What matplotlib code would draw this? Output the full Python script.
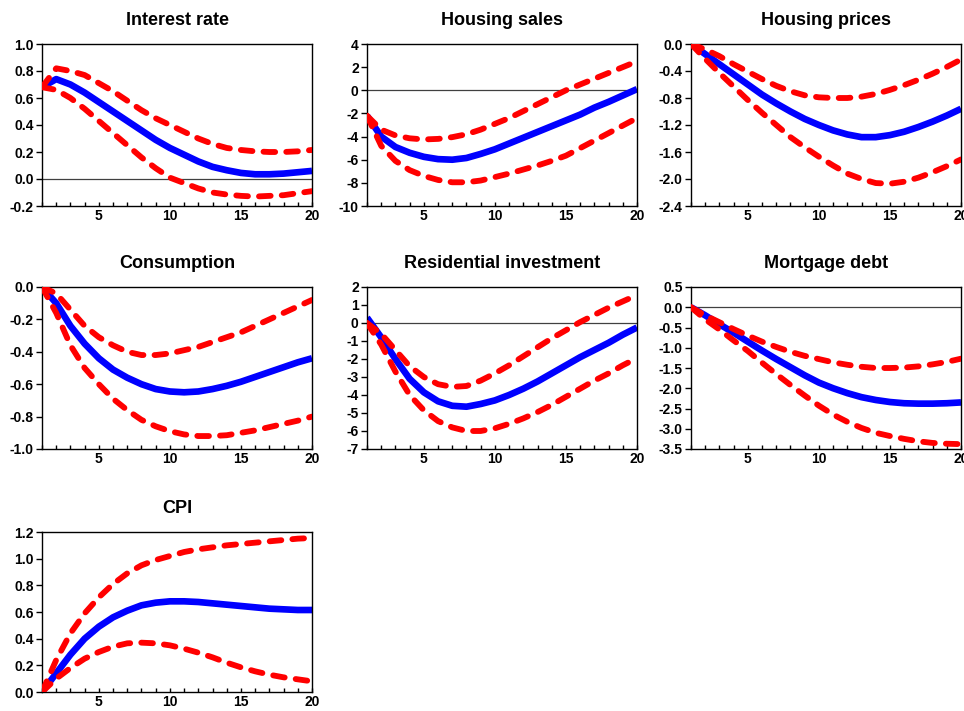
import matplotlib
matplotlib.use('Agg')
import matplotlib.pyplot as plt
from matplotlib.ticker import FixedLocator, MultipleLocator, FormatStrFormatter

plt.rcParams['font.family'] = ['Liberation Sans', 'DejaVu Sans']

horizon = list(range(1, 21))

# impulse responses: point estimate and lower / upper bands
rate_mid = [0.68, 0.74, 0.70, 0.64, 0.57, 0.50, 0.43, 0.36, 0.29, 0.23,
            0.18, 0.13, 0.09, 0.065, 0.045, 0.035, 0.035, 0.04, 0.05, 0.06]
rate_hi = [0.68, 0.82, 0.80, 0.77, 0.71, 0.65, 0.58, 0.51, 0.45, 0.40,
           0.35, 0.30, 0.26, 0.23, 0.215, 0.205, 0.20, 0.20, 0.205, 0.215]
rate_lo = [0.68, 0.66, 0.60, 0.52, 0.43, 0.34, 0.25, 0.16, 0.08, 0.01,
           -0.03, -0.07, -0.10, -0.115, -0.125, -0.13, -0.125, -0.12, -0.105, -0.09]

sales_mid = [-2.2, -4.0, -4.9, -5.4, -5.75, -5.95, -6.0, -5.85, -5.5, -5.1,
             -4.6, -4.1, -3.6, -3.1, -2.6, -2.1, -1.5, -1.0, -0.45, 0.1]
sales_hi = [-2.2, -3.4, -3.9, -4.15, -4.25, -4.2, -4.05, -3.8, -3.4, -2.9,
            -2.4, -1.8, -1.2, -0.6, 0.0, 0.5, 1.0, 1.5, 2.0, 2.5]
sales_lo = [-2.2, -4.8, -6.1, -6.9, -7.4, -7.75, -7.95, -7.95, -7.8, -7.5,
            -7.2, -6.85, -6.5, -6.1, -5.65, -5.0, -4.35, -3.7, -3.05, -2.4]

price_mid = [0.0, -0.15, -0.3, -0.45, -0.6, -0.75, -0.88, -1.0, -1.11, -1.2,
             -1.28, -1.34, -1.38, -1.38, -1.35, -1.3, -1.23, -1.15, -1.06, -0.96]
price_hi = [0.0, -0.08, -0.18, -0.3, -0.41, -0.52, -0.62, -0.7, -0.76, -0.79,
            -0.8, -0.8, -0.78, -0.74, -0.68, -0.61, -0.53, -0.44, -0.34, -0.23]
price_lo = [0.0, -0.22, -0.43, -0.63, -0.83, -1.02, -1.2, -1.38, -1.53, -1.67,
            -1.8, -1.92, -2.0, -2.06, -2.07, -2.04, -1.98, -1.9, -1.81, -1.71]

cons_mid = [0.0, -0.1, -0.24, -0.35, -0.44, -0.51, -0.56, -0.6, -0.63, -0.645,
            -0.65, -0.645, -0.63, -0.61, -0.585, -0.555, -0.525, -0.495, -0.465, -0.44]
cons_hi = [0.0, -0.04, -0.14, -0.24, -0.31, -0.36, -0.4, -0.42, -0.42, -0.41,
           -0.39, -0.37, -0.34, -0.31, -0.28, -0.24, -0.2, -0.16, -0.12, -0.08]
cons_lo = [0.0, -0.16, -0.36, -0.5, -0.6, -0.69, -0.76, -0.82, -0.86, -0.89,
           -0.91, -0.92, -0.92, -0.915, -0.9, -0.885, -0.865, -0.845, -0.825, -0.8]

resinv_mid = [0.3, -0.8, -2.0, -3.1, -3.85, -4.35, -4.6, -4.65, -4.5, -4.3,
              -4.0, -3.65, -3.25, -2.8, -2.35, -1.9, -1.5, -1.1, -0.65, -0.25]
resinv_hi = [0.0, -0.6, -1.5, -2.4, -3.0, -3.4, -3.55, -3.5, -3.2, -2.8,
             -2.35, -1.85, -1.35, -0.85, -0.4, 0.05, 0.45, 0.85, 1.2, 1.55]
resinv_lo = [0.0, -1.2, -2.7, -4.0, -4.85, -5.45, -5.8, -6.0, -6.0, -5.85,
             -5.6, -5.3, -4.95, -4.55, -4.1, -3.65, -3.2, -2.8, -2.35, -1.95]

debt_mid = [0.0, -0.2, -0.42, -0.63, -0.85, -1.07, -1.28, -1.48, -1.68, -1.86,
            -2.0, -2.12, -2.22, -2.29, -2.34, -2.37, -2.38, -2.38, -2.37, -2.35]
debt_hi = [0.0, -0.2, -0.37, -0.54, -0.7, -0.85, -0.98, -1.1, -1.2, -1.28,
           -1.36, -1.42, -1.47, -1.5, -1.5, -1.49, -1.46, -1.41, -1.35, -1.27]
debt_lo = [0.0, -0.3, -0.55, -0.82, -1.08, -1.37, -1.65, -1.92, -2.18, -2.43,
           -2.65, -2.83, -2.98, -3.1, -3.18, -3.25, -3.31, -3.35, -3.37, -3.38]

cpi_mid = [0.0, 0.14, 0.28, 0.4, 0.49, 0.56, 0.61, 0.65, 0.67, 0.68,
           0.68, 0.675, 0.665, 0.655, 0.645, 0.635, 0.625, 0.62, 0.615, 0.615]
cpi_hi = [0.0, 0.24, 0.44, 0.59, 0.71, 0.81, 0.89, 0.95, 0.99, 1.02,
          1.05, 1.07, 1.085, 1.1, 1.11, 1.12, 1.13, 1.14, 1.15, 1.155]
cpi_lo = [0.0, 0.1, 0.18, 0.25, 0.3, 0.34, 0.365, 0.37, 0.365, 0.35,
          0.325, 0.295, 0.26, 0.22, 0.185, 0.155, 0.13, 0.11, 0.095, 0.08]

titles = ['Interest rate', 'Housing sales', 'Housing prices',
          'Consumption', 'Residential investment', 'Mortgage debt', 'CPI']
y_limits = [(-0.2, 1.0), (-10, 4), (-2.4, 0.0),
            (-1.0, 0.0), (-7, 2), (-3.5, 0.5), (0.0, 1.2)]
y_steps = [0.2, 2, 0.4, 0.2, 1, 0.5, 0.2]
y_formats = ['%.1f', '%d', '%.1f', '%.1f', '%d', '%.1f', '%.1f']
zero_line = [True, True, False, False, True, True, False]


def draw_panel(ax, title, mid, lo, hi, ylim, step, fmt, zero):
    if zero:
        ax.axhline(0, color='#404040', lw=0.9, zorder=1)
    ax.plot(horizon, mid, color='#0000ff', lw=4.8, solid_capstyle='butt',
            solid_joinstyle='round', zorder=2)
    for band in (hi, lo):
        ax.plot(horizon, band, color='#ff0000', lw=4.2, dashes=(2.0, 1.9),
                dash_capstyle='round', dash_joinstyle='round', zorder=3)
    ax.set_xlim(1, 20)
    ax.set_ylim(*ylim)
    ax.xaxis.set_major_locator(FixedLocator([5, 10, 15, 20]))
    ax.xaxis.set_minor_locator(MultipleLocator(1))
    ax.yaxis.set_major_locator(MultipleLocator(step))
    ax.yaxis.set_major_formatter(FormatStrFormatter(fmt))
    ax.tick_params(axis='x', which='both', direction='in', length=3, width=1,
                   labelsize=10, pad=2)
    ax.tick_params(axis='y', direction='out', length=4, width=1, labelsize=10, pad=2)
    for lab in ax.get_xticklabels() + ax.get_yticklabels():
        lab.set_fontweight('bold')
    for sp in ax.spines.values():
        sp.set_linewidth(1.0)
        sp.set_color('black')
    ax.set_title(title, fontsize=13, fontweight='bold', pad=14)


def create_irf_figure():
    fig = plt.figure(figsize=(9.64, 7.11), dpi=100)
    series = [(rate_mid, rate_lo, rate_hi), (sales_mid, sales_lo, sales_hi),
              (price_mid, price_lo, price_hi), (cons_mid, cons_lo, cons_hi),
              (resinv_mid, resinv_lo, resinv_hi), (debt_mid, debt_lo, debt_hi),
              (cpi_mid, cpi_lo, cpi_hi)]
    lefts = [42, 367, 691]
    tops = [44, 287, 532]
    W, H = 964, 711
    for i, (mid, lo, hi) in enumerate(series):
        r, c = divmod(i, 3)
        h = 162 if r < 2 else 160
        ax = fig.add_axes([lefts[c] / W, 1 - (tops[r] + h) / H, 270 / W, h / H])
        draw_panel(ax, titles[i], mid, lo, hi, y_limits[i], y_steps[i],
                   y_formats[i], zero_line[i])
    fig.savefig('out.png', dpi=100)


if __name__ == "__main__":
    create_irf_figure()
